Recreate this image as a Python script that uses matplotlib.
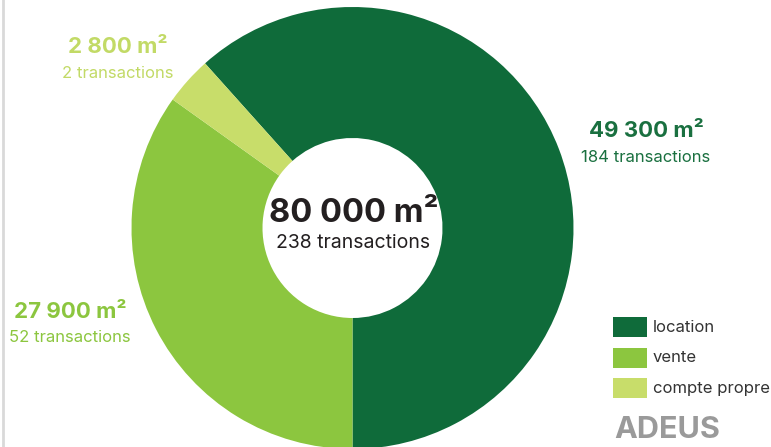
import matplotlib.pyplot as plt
from matplotlib.patches import Rectangle

plt.rcParams['font.family'] = ['Inter', 'DejaVu Sans']

# surfaces par type de transaction
types = ['location', 'vente', 'compte propre']
surfaces = [49300, 27900, 2800]
nb_transactions = [184, 52, 2]
couleurs = ['#0f6b3a', '#8cc63f', '#c8dd6a']
couleurs_texte = ['#1a7040', '#8cc63f', '#c2da66']

total_surface = sum(surfaces)
total_transactions = sum(nb_transactions)


def fmt(n):
    return f'{n:,}'.replace(',', ' ')


fig = plt.figure(figsize=(7.71, 4.47), dpi=100)
ax = fig.add_axes([0, 0, 1, 1])

# anneau
debut = -90 + 360 * surfaces[0] / total_surface
ax.pie(surfaces, colors=couleurs, startangle=debut, counterclock=False,
       center=(352.5, 219), radius=221,
       wedgeprops=dict(width=131, linewidth=0), frame=True)
ax.set_xlim(0, 771)
ax.set_ylim(0, 447)
ax.set_aspect('equal')
ax.axis('off')

# total au centre
ax.text(354, 233, f'{fmt(total_surface)} m²', ha='center', va='center',
        fontsize=23.5, fontweight='bold', color='#231f20')
ax.text(353, 204, f'{total_transactions} transactions', ha='center', va='center',
        fontsize=14, color='#231f20')

# étiquettes des secteurs
positions = [(646, 316), (70, 135), (118, 400)]
for (x, y), s, n, c in zip(positions, surfaces, nb_transactions, couleurs_texte):
    ax.text(x, y, f'{fmt(s)} m²', ha='center', va='center',
            fontsize=16, fontweight='bold', color=c)
    ax.text(x, y - 26, f'{n} transactions', ha='center', va='center',
            fontsize=12, color=c)

# légende
for i, (t, c) in enumerate(zip(types, couleurs)):
    y = 120 - i * 30.5
    ax.add_patch(Rectangle((613, y - 10), 34, 20, color=c, lw=0))
    ax.text(653, y, t, ha='left', va='center', fontsize=12, color='#333333')

ax.text(614, 17, 'ADEUS', ha='left', va='center', fontsize=22,
        fontweight='bold', color='#9a9a9a')

# filet gauche
ax.plot([2.5, 2.5], [0, 447], color='#d9d9d9', lw=2)

fig.savefig('out.png', dpi=100)
